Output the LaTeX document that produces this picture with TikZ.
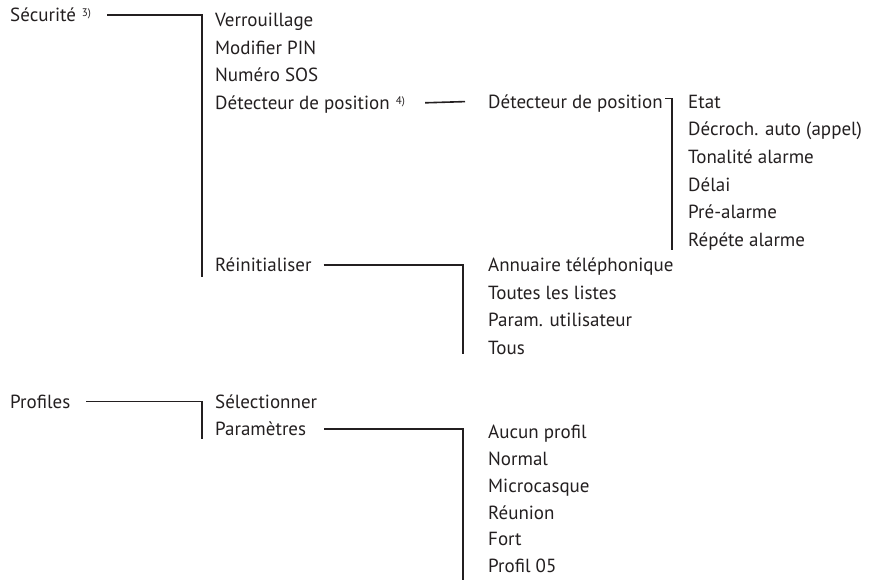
\documentclass[tikz,border=0pt]{standalone}
\usepackage{fontspec}
\setmainfont{PT Sans}
\usetikzlibrary{positioning}
\definecolor{ink}{RGB}{35,31,32}
\newcommand{\supnote}[1]{\hspace{6pt}\raisebox{5pt}{\fontsize{11pt}{11pt}\selectfont #1)}}

\begin{document}
\begin{tikzpicture}[x=1pt, y=-1pt,
    item/.style={anchor=west, inner sep=0pt, text height=13.3pt, text depth=0pt,
      font=\fontsize{19pt}{23pt}\selectfont, text=ink},
    lst/.style={below=13.9pt of #1.south west, anchor=north west},
    tight/.style={below=13.1pt of #1.south west, anchor=north west},
    link/.style={draw=ink, line width=1.6pt}
  ]
  \useasboundingbox (0,0) rectangle (876,579);

  % Securite
  \node[item] (sec) at (10,15) {Sécurité\supnote{3}};
  \node[item] (ver) at (215,20) {Verrouillage};
  \node[item, lst=ver] (pin) {Modifier PIN};
  \node[item, lst=pin] (sos) {Numéro SOS};
  \node[item, lst=sos] (det) {Détecteur de position\supnote{4}};
  \node[item] (reinit) at (215,264.8) {Réinitialiser};

  \node[item] (det2) at (488,101.6) {Détecteur de position};
  \node[item] (etat) at (688,101.6) {Etat};
  \node[item, lst=etat] (decr) {Décroch. auto (appel)};
  \node[item, lst=decr] (tona) {Tonalité alarme};
  \node[item, lst=tona] (delai) {Délai};
  \node[item, lst=delai] (pre) {Pré-alarme};
  \node[item, lst=pre] (rep) {Répéte alarme};

  \node[item] (ann) at (488,264.8) {Annuaire téléphonique};
  \node[item, lst=ann] (listes) {Toutes les listes};
  \node[item, lst=listes] (user) {Param. utilisateur};
  \node[item, lst=user] (tous) {Tous};

  % Profiles
  \node[item] (prof) at (10,401.6) {Profiles};
  \node[item] (sel) at (215,401.6) {Sélectionner};
  \node[item, lst=sel] (param) {Paramètres};
  \node[item] (aucun) at (488,432) {Aucun profil};
  \node[item, tight=aucun] (normal) {Normal};
  \node[item, tight=normal] (micro) {Microcasque};
  \node[item, tight=micro] (reunion) {Réunion};
  \node[item, tight=reunion] (fort) {Fort};
  \node[item, tight=fort] (p05) {Profil 05};

  \draw[link] ([xshift=16pt]sec.east) -| ([xshift=-13pt,yshift=-12pt]reinit.west);
  \draw[link] ([xshift=20pt]det.east) -- ([xshift=-23pt]det2.west);
  \draw[link] ([xshift=2pt,yshift=3pt]det2.east) -| ([xshift=-16pt,yshift=-10pt]rep.west);
  \draw[link] ([xshift=12pt]reinit.east) -| ([xshift=-25pt,yshift=-6pt]tous.west);
  \draw[link] ([xshift=16pt]prof.east) -| ([xshift=-13pt,yshift=-10pt]param.west);
  \draw[link] ([xshift=18pt]param.east) -| ([xshift=-25pt,yshift=-16pt]p05.west);
\end{tikzpicture}
\end{document}
